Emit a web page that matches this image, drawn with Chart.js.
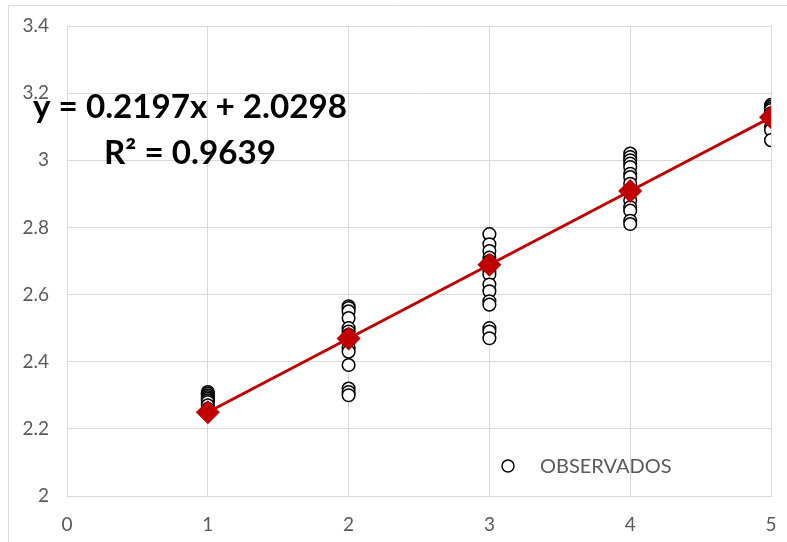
<!DOCTYPE html>
<html>
<head>
<meta charset="utf-8">
<script src="https://cdn.jsdelivr.net/npm/chart.js@4/dist/chart.umd.min.js"></script>
<style>
html,body{margin:0;padding:0;background:#fff;}
#wrap{position:relative;width:787px;height:542px;}
</style>
</head>
<body>
<div id="wrap"><canvas id="c" width="787" height="542"></canvas></div>
<script>
const xCats = [1, 2, 3, 4, 5];
const obs1 = [2.31, 2.305, 2.30, 2.295, 2.29, 2.285, 2.28, 2.27, 2.26];
const obs2 = [2.565, 2.56, 2.55, 2.53, 2.50, 2.49, 2.48, 2.46, 2.44, 2.43, 2.39, 2.32, 2.31, 2.30];
const obs3 = [2.78, 2.75, 2.73, 2.71, 2.70, 2.69, 2.67, 2.66, 2.63, 2.61, 2.58, 2.57, 2.50, 2.49, 2.47];
const obs4 = [3.02, 3.01, 3.00, 2.99, 2.98, 2.96, 2.95, 2.93, 2.91, 2.88, 2.86, 2.85, 2.82, 2.81];
const obs5 = [3.165, 3.16, 3.155, 3.15, 3.14, 3.12, 3.10, 3.09, 3.06];
const means = [2.2495, 2.4692, 2.6889, 2.9086, 3.1283];
const xTicks = [0, 1, 2, 3, 4, 5];
const yTicks = [2, 2.2, 2.4, 2.6, 2.8, 3, 3.2, 3.4];
const eqLine1 = "y = 0.2197x + 2.0298";
const eqLine2 = "R² = 0.9639";
const legendLabel = "OBSERVADOS";

const obsGroups = [obs1, obs2, obs3, obs4, obs5];
const obsPoints = [];
obsGroups.forEach((g, i) => g.forEach(v => obsPoints.push({x: xCats[i], y: v})));
const meanPoints = xCats.map((x, i) => ({x: x, y: means[i]}));

const decor = {
  id: 'decor',
  beforeDraw(chart) {
    const ctx = chart.ctx;
    ctx.save();
    ctx.fillStyle = '#fff';
    ctx.fillRect(0, 0, chart.width, chart.height);
    ctx.strokeStyle = '#d9d9d9';
    ctx.lineWidth = 1;
    ctx.beginPath();
    ctx.moveTo(8.5, 542);
    ctx.lineTo(8.5, 5.5);
    ctx.lineTo(787, 5.5);
    ctx.stroke();
    ctx.restore();
  },
  afterDraw(chart) {
    const ctx = chart.ctx;
    ctx.save();
    ctx.fillStyle = '#000';
    ctx.textBaseline = 'alphabetic';
    ctx.textAlign = 'left';
    ctx.font = 'bold 32px Lato';
    let w = ctx.measureText(eqLine1).width;
    ctx.save();
    ctx.translate(33, 118);
    ctx.scale(314 / w, 1);
    ctx.fillText(eqLine1, 0, 0);
    ctx.restore();
    w = ctx.measureText(eqLine2).width;
    ctx.save();
    ctx.translate(104, 164);
    ctx.scale(172 / w, 1);
    ctx.fillText(eqLine2, 0, 0);
    ctx.restore();
    ctx.beginPath();
    ctx.arc(508, 466, 6, 0, Math.PI * 2);
    ctx.fillStyle = '#fff';
    ctx.fill();
    ctx.lineWidth = 1.5;
    ctx.strokeStyle = '#000';
    ctx.stroke();
    ctx.fillStyle = '#595959';
    ctx.font = '20px Lato';
    ctx.textBaseline = 'middle';
    ctx.fillText(legendLabel, 540, 467);
    ctx.restore();
  }
};

new Chart(document.getElementById('c'), {
  type: 'scatter',
  data: {
    datasets: [
      {
        label: 'Media',
        data: meanPoints,
        showLine: true,
        borderColor: '#C00000',
        borderWidth: 3,
        backgroundColor: '#C00000',
        pointStyle: 'rectRot',
        pointRadius: 12,
        pointBorderWidth: 0,
        order: 0
      },
      {
        label: legendLabel,
        data: obsPoints,
        pointStyle: 'circle',
        pointRadius: 6.3,
        pointBorderWidth: 1.5,
        borderColor: '#000',
        backgroundColor: '#fff',
        order: 1
      }
    ]
  },
  options: {
    responsive: false,
    animation: false,
    layout: {padding: {top: 26, right: 16, left: 0, bottom: 0}},
    plugins: {legend: {display: false}, tooltip: {enabled: false}},
    scales: {
      x: {
        type: 'linear',
        min: 0, max: 5,
        afterBuildTicks(s) { s.ticks = xTicks.map(v => ({value: v})); },
        afterFit(s) { s.height = 46; },
        grid: {color: '#d9d9d9', drawTicks: false, lineWidth: 1},
        border: {color: '#d9d9d9'},
        ticks: {color: '#595959', font: {family: 'Lato', size: 19, lineHeight: 2.0}, padding: 10, callback: v => String(v)}
      },
      y: {
        type: 'linear',
        min: 2, max: 3.4,
        afterBuildTicks(s) { s.ticks = yTicks.map(v => ({value: v})); },
        afterFit(s) { s.width = 67; },
        grid: {color: '#d9d9d9', drawTicks: false, lineWidth: 1},
        border: {color: '#d9d9d9'},
        ticks: {color: '#595959', font: {family: 'Lato', size: 19, lineHeight: 0.8}, padding: 18, callback: v => String(Number(v.toFixed(1)))}
      }
    }
  },
  plugins: [decor]
});
</script>
</body>
</html>
